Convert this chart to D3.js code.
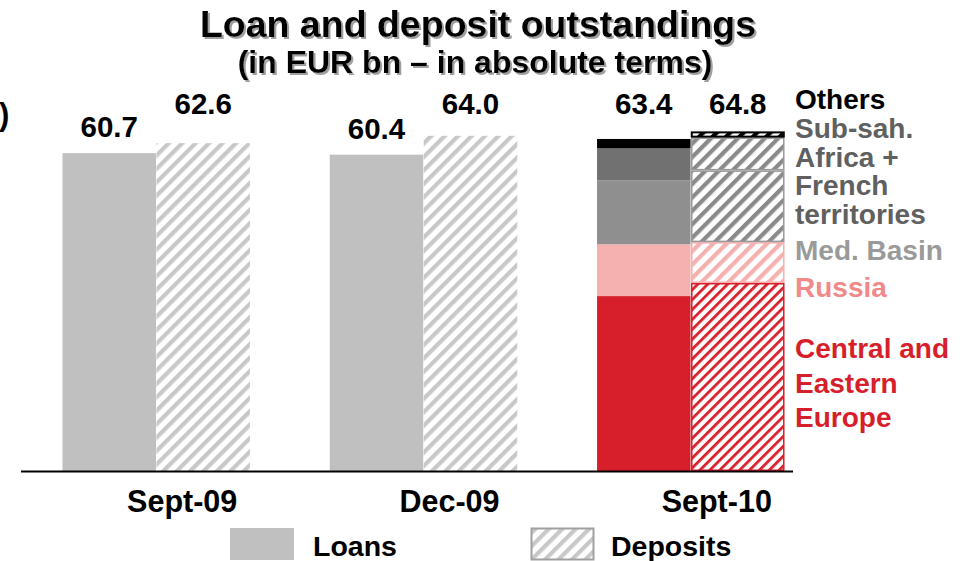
<!DOCTYPE html>
<html>
<head>
<meta charset="utf-8">
<script src="https://cdnjs.cloudflare.com/ajax/libs/d3/7.8.5/d3.min.js"></script>
<style>
  body { margin: 0; background: #fff; }
  text { font-family: "Liberation Sans", Arial, sans-serif; font-weight: bold; }
</style>
</head>
<body>
<div id="chart"></div>
<script>
// data
const periods = ["Sept-09", "Dec-09", "Sept-10"];
const loans = [60.7, 60.4, 63.4];
const deposits = [62.6, 64.0, 64.8];

// Sept-10 breakdown by region (bottom to top)
const regions = ["Central and Eastern Europe", "Russia", "Med. Basin", "Sub-sah. Africa + French territories", "Others"];
const loansSept10 = [33.4, 9.9, 12.2, 6.1, 1.8];
const depositsSept10 = [35.9, 7.8, 13.7, 6.3, 1.1];

const regionLabels = [
  ["Central and", "Eastern", "Europe"],
  ["Russia"],
  ["Med. Basin"],
  ["Sub-sah.", "Africa +", "French", "territories"],
  ["Others"]
];

const width = 976, height = 561;
const fillCols = ["#d71f2c", "#f5b0b0", "#8f8f8f", "#717171", "#000000"];
const textCols = ["#d71f2c", "#f08a8a", "#9a9a9a", "#606060", "#000000"];
const hatchCols = ["#d71f2c", "#f5b0b0", "#8a8a8a", "#8a8a8a", "#000000"];

const svg = d3.select("#chart").append("svg")
  .attr("width", width)
  .attr("height", height);

// hatch patterns
const defs = svg.append("defs");
function hatch(id, col, sp, sw) {
  const p = defs.append("pattern")
    .attr("id", id)
    .attr("patternUnits", "userSpaceOnUse")
    .attr("width", sp).attr("height", sp)
    .attr("patternTransform", "rotate(45)");
  p.append("rect").attr("width", sp).attr("height", sp).attr("fill", "#fff");
  p.append("line")
    .attr("x1", sw / 2).attr("y1", 0).attr("x2", sw / 2).attr("y2", sp)
    .attr("stroke", col).attr("stroke-width", sw);
}
hatch("h-base", "#c8c8c8", 9.5, 4.2);
regions.forEach((r, i) => {
  if (i === 0) hatch("h-0", hatchCols[0], 7, 2.8);
  else hatch("h-" + i, hatchCols[i], 9.5, 4.2);
});

// soft shadow for the title
defs.append("filter").attr("id", "shadow")
  .append("feDropShadow")
    .attr("dx", 2).attr("dy", 2).attr("stdDeviation", 0.6)
    .attr("flood-color", "#a0a0a0").attr("flood-opacity", 1);

// scales
const x = d3.scaleBand()
  .domain(periods)
  .range([62, 785])
  .paddingInner(0.295)
  .paddingOuter(0);

const x1 = d3.scaleBand()
  .domain(["Loans", "Deposits"])
  .range([0, x.bandwidth()])
  .padding(0.005);

const y = d3.scaleLinear()
  .domain([0, 70])
  .range([471, 104.4]);

// title
svg.append("text").attr("x", 478).attr("y", 37)
  .attr("text-anchor", "middle").attr("font-size", 37.5)
  .attr("filter", "url(#shadow)")
  .text("Loan and deposit outstandings");
svg.append("text").attr("x", 475).attr("y", 73)
  .attr("text-anchor", "middle").attr("font-size", 32)
  .attr("filter", "url(#shadow)")
  .text("(in EUR bn \u2013 in absolute terms)");

svg.append("text").attr("x", -1).attr("y", 125)
  .attr("font-size", 31).attr("font-weight", "normal").text(")");

// bars for the first two periods
const simple = periods.slice(0, 2);
simple.forEach((p, i) => {
  svg.append("rect")
    .attr("x", x(p) + x1("Loans"))
    .attr("y", y(loans[i]))
    .attr("width", x1.bandwidth())
    .attr("height", y(0) - y(loans[i]))
    .attr("fill", "#c0c0c0");
  svg.append("rect")
    .attr("x", x(p) + x1("Deposits"))
    .attr("y", y(deposits[i]))
    .attr("width", x1.bandwidth())
    .attr("height", y(0) - y(deposits[i]))
    .attr("fill", "url(#h-base)");
});

// stacked bars for Sept-10
const last = periods[2];
function stackSegs(vals) {
  let acc = 0;
  return vals.map((v, i) => { const s = { i: i, y0: acc, y1: acc + v }; acc += v; return s; });
}

svg.append("g").selectAll("rect")
  .data(stackSegs(loansSept10))
  .join("rect")
    .attr("x", x(last) + x1("Loans"))
    .attr("y", d => y(d.y1))
    .attr("width", x1.bandwidth())
    .attr("height", d => y(d.y0) - y(d.y1))
    .attr("fill", d => fillCols[d.i]);

svg.append("g").selectAll("rect")
  .data(stackSegs(depositsSept10))
  .join("rect")
    .attr("x", x(last) + x1("Deposits") + 0.75)
    .attr("y", d => y(d.y1) + 0.75)
    .attr("width", x1.bandwidth() - 1.5)
    .attr("height", d => y(d.y0) - y(d.y1) - 1.5)
    .attr("fill", d => "url(#h-" + d.i + ")")
    .attr("stroke", d => d.i === 2 || d.i === 3 ? "#999" : hatchCols[d.i])
    .attr("stroke-width", d => d.i === 4 ? 2 : 1.5);

// value labels: a common top row, short bars get theirs just above the bar
const labelRow = 114;
const labels = [];
periods.forEach((p, i) => {
  labels.push({ x: x(p) + x1("Loans") + x1.bandwidth() / 2, v: loans[i] });
  labels.push({ x: x(p) + x1("Deposits") + x1.bandwidth() / 2, v: deposits[i] });
});
svg.append("g").selectAll("text")
  .data(labels)
  .join("text")
    .attr("x", d => d.x)
    .attr("y", d => (y(d.v) - 16 > 130 ? y(d.v) - 16 : labelRow))
    .attr("text-anchor", "middle")
    .attr("font-size", 29.5)
    .text(d => d.v.toFixed(1));

// baseline
svg.append("line")
  .attr("x1", 21).attr("x2", 793)
  .attr("y1", y(0) + 0.5).attr("y2", y(0) + 0.5)
  .attr("stroke", "#000").attr("stroke-width", 2);

// x labels
svg.append("g").selectAll("text")
  .data(periods)
  .join("text")
    .attr("x", d => x(d) + x.bandwidth() / 2 + 26)
    .attr("y", 512)
    .attr("text-anchor", "middle")
    .attr("font-size", 30.5)
    .text(d => d);

// region labels at right
const lineH = 28.5;
const regionY = [358, 297, 260, 138, 109];
regions.forEach((r, i) => {
  const t = svg.append("text")
    .attr("x", 795)
    .attr("y", regionY[i])
    .attr("font-size", 28)
    .attr("fill", textCols[i]);
  regionLabels[i].forEach((ln, j) => {
    t.append("tspan").attr("x", 795)
      .attr("dy", j === 0 ? 0 : (i === 0 ? 34.5 : lineH))
      .text(ln);
  });
});

// legend
const legend = svg.append("g");
legend.append("rect").attr("x", 230).attr("y", 528).attr("width", 64).attr("height", 32).attr("fill", "#c0c0c0");
legend.append("text").attr("x", 313).attr("y", 556).attr("font-size", 28.5).text("Loans");
legend.append("rect").attr("x", 531.5).attr("y", 528.5).attr("width", 62).attr("height", 31)
  .attr("fill", "url(#h-base)").attr("stroke", "#a0a0a0").attr("stroke-width", 2);
legend.append("text").attr("x", 611).attr("y", 556).attr("font-size", 28.5).text("Deposits");
</script>
</body>
</html>
